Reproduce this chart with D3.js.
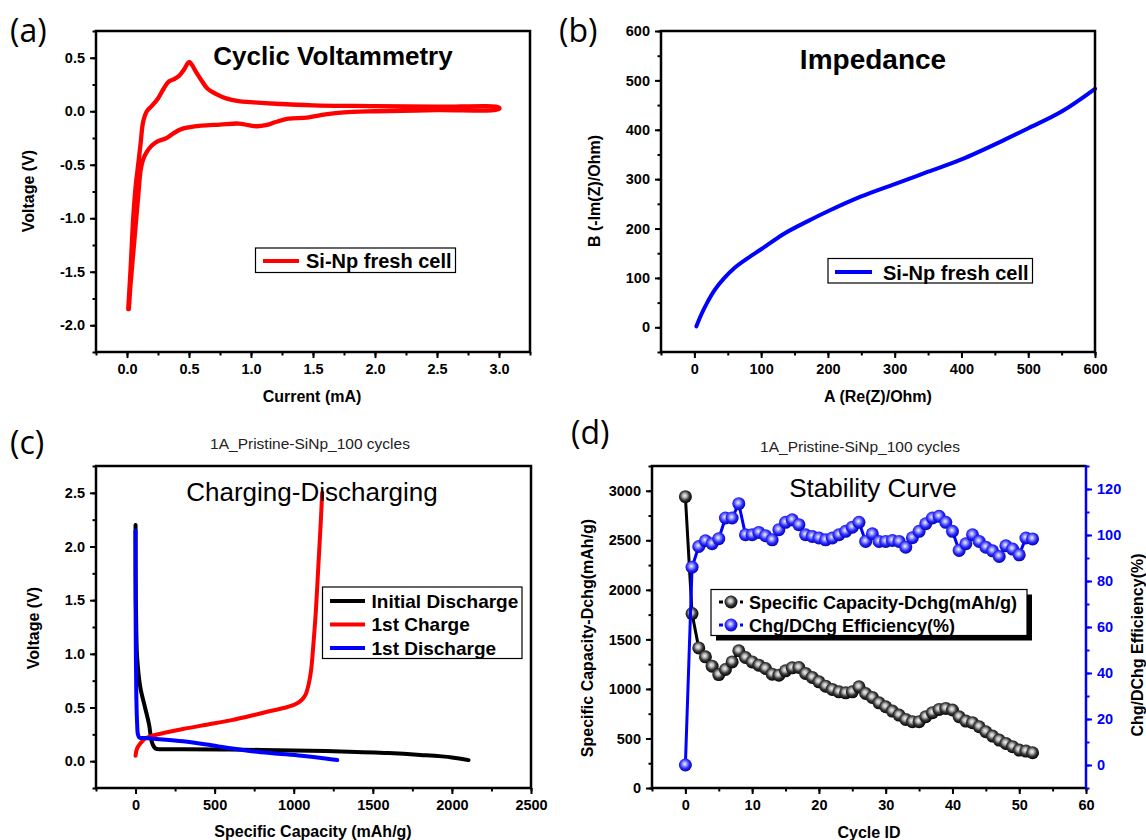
<!DOCTYPE html>
<html><head><meta charset="utf-8">
<script src="https://cdn.jsdelivr.net/npm/d3@7"></script>
<style>
body{margin:0;background:#fff}
svg{display:block}
text{font-family:"Liberation Sans",Arial,sans-serif}
</style>
</head><body>
<svg id="chart" width="1146" height="840"></svg>
<script>
// ---------- DATA ----------
// (a) Cyclic voltammetry loop
const cvCurrent = [0.01,0.03,0.05,0.07,0.09,0.11,0.13,0.16,0.2,0.25,0.3,0.34,0.38,0.42,0.46,0.5,0.52,0.56,0.6,0.65,0.72,0.8,0.9,1.0,1.2,1.5,2.0,2.5,3.0,
                   3.0,2.5,2.0,1.75,1.6,1.45,1.3,1.2,1.12,1.05,0.98,0.9,0.75,0.6,0.5,0.43,0.37,0.32,0.25,0.2,0.16,0.13,0.11,0.09,0.06,0.03,0.015];
const cvVoltage = [-1.85,-1.45,-1.0,-0.7,-0.5,-0.3,-0.1,0.0,0.05,0.12,0.22,0.28,0.3,0.33,0.39,0.46,0.44,0.36,0.29,0.21,0.16,0.12,0.095,0.085,0.07,0.055,0.048,0.042,0.035,
                   0.02,0.01,0.0,-0.01,-0.03,-0.06,-0.07,-0.1,-0.13,-0.14,-0.13,-0.115,-0.125,-0.135,-0.15,-0.17,-0.21,-0.25,-0.28,-0.32,-0.38,-0.45,-0.55,-0.8,-1.2,-1.6,-1.85];
// (b) Impedance
const zRe = [3,10,20,30,45,60,80,100,135,170,200,250,300,350,400,465,500,550,600];
const zIm = [2,25,52,75,100,120,140,158,190,215,235,265,290,315,340,380,403,437,483];
// (c) Charge / discharge
const initDisCap = [0,0,2,5,10,30,60,85,105,126,170,300,600,1000,1300,1600,1800,2000,2105];
const initDisV   = [2.2,2.0,1.5,1.2,0.97,0.69,0.5,0.345,0.17,0.118,0.112,0.112,0.108,0.1,0.09,0.075,0.058,0.035,0.01];
const charge1Cap = [0,10,30,60,100,200,300,450,600,750,860,950,1010,1050,1075,1095,1110,1125,1140,1155,1170,1180];
const charge1V   = [0.05,0.12,0.165,0.21,0.235,0.27,0.3,0.34,0.38,0.43,0.47,0.5,0.53,0.57,0.62,0.72,0.85,1.1,1.4,1.8,2.2,2.5];
const discharge1Cap = [0,0,2,5,10,15,25,60,150,300,450,600,750,900,1050,1200,1275];
const discharge1V   = [2.15,1.5,1.0,0.6,0.35,0.25,0.22,0.215,0.205,0.185,0.155,0.12,0.09,0.07,0.05,0.025,0.01];
// (d) Stability
const cycleId = [0,1,2,3,4,5,6,7,8,9,10,11,12,13,14,15,16,17,18,19,20,21,22,23,24,25,26,27,28,29,30,31,32,33,34,35,36,37,38,39,40,41,42,43,44,45,46,47,48,49,50,51,52];
const capacityDchg = [2940,1760,1414,1324,1230,1145,1196,1273,1385,1317,1273,1240,1206,1149,1139,1183,1213,1216,1156,1116,1072,1028,995,971,961,971,1021,954,914,860,820,776,736,692,669,669,719,760,793,803,787,719,675,659,618,568,524,484,450,417,383,373,356];
const efficiency = [0,86,95,97.5,96.2,98.4,107.4,107.4,113.6,100.1,100.1,101.1,99.7,97.9,102.3,105.5,106.6,104.5,100.1,99.4,98.7,97.9,98.7,100.1,101.6,103.4,105.5,97.2,100.5,97.2,97.2,97.6,97.2,94.7,98.8,101.6,104.9,107.4,108.1,105.5,101.6,93.3,96.2,100.1,97.2,94.7,93.1,90.7,95.3,93.9,91.4,98.7,98.3];

// tick values
const aXMajor=[0,0.5,1,1.5,2,2.5,3], aYMajor=[-2,-1.5,-1,-0.5,0,0.5];
const bXMajor=[0,100,200,300,400,500,600], bYMajor=[0,100,200,300,400,500,600];
const cXMajor=[0,500,1000,1500,2000,2500], cYMajor=[0,0.5,1,1.5,2,2.5];
const dXMajor=[0,10,20,30,40,50,60], dYLMajor=[0,500,1000,1500,2000,2500,3000], dYRMajor=[0,20,40,60,80,100,120];

// ---------- DRAW ----------
const svg = d3.select('#chart');
const defs = svg.append('defs');
function sphere(id, stops){
  const g = defs.append('radialGradient').attr('id',id).attr('cx','45%').attr('cy','42%').attr('r','58%');
  stops.forEach(s=>g.append('stop').attr('offset',s[0]).attr('stop-color',s[1]));
}
sphere('gBlack',[[0,'#f2f2f2'],[0.28,'#b8b8b8'],[0.6,'#3a3a3a'],[1,'#000']]);
sphere('gBlue',[[0,'#f4f4ff'],[0.28,'#9a9aff'],[0.62,'#2a2aff'],[1,'#0000b0']]);

function minorTicks(domain, step){
  const out=[]; const s=Math.ceil(domain[0]/step-1e-9);
  for(let i=s;i*step<=domain[1]+1e-9;i++) out.push(+(i*step).toFixed(6));
  return out;
}
function styleAxis(sel, color){
  sel.select('.domain').remove();
  sel.selectAll('line').attr('stroke',color).attr('stroke-width',2);
  sel.selectAll('text').attr('fill',color).style('font-size','14.5px').style('font-weight','bold')
     .style('font-family','"Liberation Sans",Arial,sans-serif');
}
function addAxis(g, type, scale, pos, majors, minorStep, fmt, color){
  color = color||'#000';
  const mk = {left:d3.axisLeft, bottom:d3.axisBottom, right:d3.axisRight}[type];
  const tr = type==='bottom' ? `translate(0,${pos})` : `translate(${pos},0)`;
  const mi = g.append('g').attr('transform',tr)
    .call(mk(scale).tickValues(minorTicks(scale.domain(),minorStep)).tickSize(3.5).tickSizeOuter(0).tickFormat(''));
  styleAxis(mi,color);
  const ma = g.append('g').attr('transform',tr)
    .call(mk(scale).tickValues(majors).tickSize(6).tickSizeOuter(0).tickPadding(type==='bottom'?6:5).tickFormat(fmt));
  styleAxis(ma,color);
}
function frame(g,p){
  g.append('rect').attr('x',p.l).attr('y',p.t).attr('width',p.r-p.l).attr('height',p.b-p.t)
   .attr('fill','none').attr('stroke','#000').attr('stroke-width',2.5);
}
function txt(x,y,s,size,opts){
  opts=opts||{};
  const t=svg.append('text').attr('x',x).attr('y',y).text(s).style('font-size',size+'px')
    .style('font-weight',opts.bold?'bold':'normal').attr('text-anchor',opts.anchor||'middle')
    .attr('fill',opts.fill||'#000');
  if(opts.family) t.style('font-family',opts.family);
  if(opts.rot) t.attr('transform',`rotate(${opts.rot},${x},${y})`);
  return t;
}
function drawLine(g,xs,ys,x,y,color,w,smooth){
  const pts = xs.map((v,i)=>[x(v),y(ys[i])]);
  const gen = d3.line(); if(smooth) gen.curve(d3.curveCatmullRom.alpha(0.5));
  g.append('path').attr('d',gen(pts)).attr('fill','none').attr('stroke',color)
   .attr('stroke-width',w).attr('stroke-linejoin','round').attr('stroke-linecap','round');
}
const f1 = d=>d.toFixed(1), f0 = d=>String(d);
const letterFont = '"Open Sans","Noto Sans",sans-serif';

// ----- Panel (a) -----
{
  const p={l:96,r:530,t:31,b:352};
  const g=svg.append('g');
  const x=d3.scaleLinear().domain([-0.25,3.25]).range([p.l,p.r]);
  const y=d3.scaleLinear().domain([-2.25,0.75]).range([p.b,p.t]);
  drawLine(g,cvCurrent,cvVoltage,x,y,'#ff0000',4.3,true);
  frame(g,p);
  addAxis(g,'left',y,p.l,aYMajor,0.25,f1);
  addAxis(g,'bottom',x,p.b,aXMajor,0.25,f1);
  txt(10,42,'(a)',32,{anchor:'start',family:letterFont});
  txt(333,65,'Cyclic Voltammetry',26,{bold:true});
  txt(28,191,'Voltage (V)',16,{bold:true,rot:-90}).attr('dy','0.35em');
  txt(312,402,'Current (mA)',16,{bold:true});
  g.append('rect').attr('x',255.5).attr('y',248).attr('width',200).attr('height',24.5).attr('fill','#fff').attr('stroke','#000').attr('stroke-width',1.2);
  g.append('line').attr('x1',263).attr('x2',299).attr('y1',261).attr('y2',261).attr('stroke','#ff0000').attr('stroke-width',4);
  txt(306,268,'Si-Np fresh cell',20,{bold:true,anchor:'start'});
}
// ----- Panel (b) -----
{
  const p={l:661,r:1095,t:31,b:352};
  const g=svg.append('g');
  const x=d3.scaleLinear().domain([-50,600]).range([p.l,p.r]);
  const y=d3.scaleLinear().domain([-50,600]).range([p.b,p.t]);
  drawLine(g,zRe,zIm,x,y,'#0000ff',4,true);
  frame(g,p);
  addAxis(g,'left',y,p.l,bYMajor,50,f0);
  addAxis(g,'bottom',x,p.b,bXMajor,50,f0);
  txt(559,42,'(b)',32,{anchor:'start',family:letterFont});
  txt(873,69,'Impedance',28,{bold:true});
  txt(594,191,'B (-Im(Z)/Ohm)',16,{bold:true,rot:-90}).attr('dy','0.35em');
  txt(878,402,'A (Re(Z)/Ohm)',16,{bold:true});
  g.append('rect').attr('x',828).attr('y',258.5).attr('width',204.5).attr('height',24.5).attr('fill','#fff').attr('stroke','#000').attr('stroke-width',1.2);
  g.append('line').attr('x1',835).attr('x2',872).attr('y1',272).attr('y2',272).attr('stroke','#0000ff').attr('stroke-width',4);
  txt(883,280,'Si-Np fresh cell',20,{bold:true,anchor:'start'});
}
// ----- Panel (c) -----
{
  const p={l:96,r:531,t:466,b:788};
  const g=svg.append('g');
  const x=d3.scaleLinear().domain([-250,2500]).range([p.l,p.r]);
  const y=d3.scaleLinear().domain([-0.25,2.75]).range([p.b,p.t]);
  drawLine(g,initDisCap,initDisV,x,y,'#000000',4,true);
  drawLine(g,charge1Cap,charge1V,x,y,'#ff0000',4,true);
  drawLine(g,discharge1Cap,discharge1V,x,y,'#0000ff',4,true);
  frame(g,p);
  addAxis(g,'left',y,p.l,cYMajor,0.25,f1);
  addAxis(g,'bottom',x,p.b,cXMajor,250,f0);
  txt(10,454,'(c)',32,{anchor:'start',family:letterFont});
  txt(310,449,'1A_Pristine-SiNp_100 cycles',15.5,{fill:'#222'});
  txt(312,501,'Charging-Discharging',26);
  txt(33,628,'Voltage (V)',16,{bold:true,rot:-90}).attr('dy','0.35em');
  txt(313,837,'Specific Capacity (mAh/g)',16,{bold:true});
  g.append('rect').attr('x',322.5).attr('y',587).attr('width',199.5).attr('height',71.5).attr('fill','#fff').attr('stroke','#000').attr('stroke-width',1.2);
  const ent=[['Initial Discharge','#000',601,607.5],['1st Charge','#ff0000',624.5,630.5],['1st Discharge','#0000ff',648,654.5]];
  ent.forEach(e=>{
    g.append('line').attr('x1',330).attr('x2',365).attr('y1',e[2]).attr('y2',e[2]).attr('stroke',e[1]).attr('stroke-width',4);
    txt(371.5,e[3],e[0],19,{bold:true,anchor:'start'});
  });
}
// ----- Panel (d) -----
{
  const p={l:652,r:1086,t:466,b:788};
  const g=svg.append('g');
  const x=d3.scaleLinear().domain([-5,60]).range([p.l,p.r]);
  const yL=d3.scaleLinear().domain([0,3250]).range([p.b,p.t]);
  const yR=d3.scaleLinear().domain([-10,130]).range([p.b,p.t]);
  g.append('path').attr('d',`M${p.r},${p.t}H${p.l}V${p.b}H${p.r}`).attr('fill','none').attr('stroke','#000').attr('stroke-width',2.5);
  g.append('line').attr('x1',p.r).attr('x2',p.r).attr('y1',p.t-1).attr('y2',p.b+1).attr('stroke','#0000ff').attr('stroke-width',2.5);
  addAxis(g,'left',yL,p.l,dYLMajor,250,f0);
  addAxis(g,'bottom',x,p.b,dXMajor,5,f0);
  addAxis(g,'right',yR,p.r,dYRMajor,10,f0,'#0000ff');
  drawLine(g,cycleId,capacityDchg,x,yL,'#000',3,false);
  g.append('g').selectAll('circle').data(cycleId).join('circle')
    .attr('cx',d=>x(d)).attr('cy',(d,i)=>yL(capacityDchg[i])).attr('r',6.5).attr('fill','url(#gBlack)');
  drawLine(g,cycleId,efficiency,x,yR,'#0000ff',3,false);
  g.append('g').selectAll('circle').data(cycleId).join('circle')
    .attr('cx',d=>x(d)).attr('cy',(d,i)=>yR(efficiency[i])).attr('r',6.5).attr('fill','url(#gBlue)');
  txt(571,444,'(d)',32,{anchor:'start',family:letterFont});
  txt(860,452,'1A_Pristine-SiNp_100 cycles',15.5,{fill:'#222'});
  txt(873,497,'Stability Curve',26);
  txt(587,638,'Specific Capacity-Dchg(mAh/g)',16,{bold:true,rot:-90}).attr('dy','0.35em');
  txt(1137,645,'Chg/DChg Efficiency(%)',16,{bold:true,rot:-90}).attr('dy','0.35em');
  txt(869,838,'Cycle ID',16,{bold:true});
  g.append('rect').attr('x',716).attr('y',594.5).attr('width',316).attr('height',46).attr('fill','#000');
  g.append('rect').attr('x',711).attr('y',589.5).attr('width',316).attr('height',46).attr('fill','#fff').attr('stroke','#000').attr('stroke-width',1.2);
  const le=[['Specific Capacity-Dchg(mAh/g)','#000','url(#gBlack)',602,609],['Chg/DChg Efficiency(%)','#0000ff','url(#gBlue)',625,632]];
  le.forEach(e=>{
    g.append('line').attr('x1',719).attr('x2',743).attr('y1',e[3]).attr('y2',e[3]).attr('stroke',e[1]).attr('stroke-width',3).attr('stroke-dasharray','4,3');
    g.append('circle').attr('cx',731).attr('cy',e[3]).attr('r',6.5).attr('fill',e[2]);
    txt(749,e[4],e[0],18,{bold:true,anchor:'start'});
  });
}
</script>
</body></html>
